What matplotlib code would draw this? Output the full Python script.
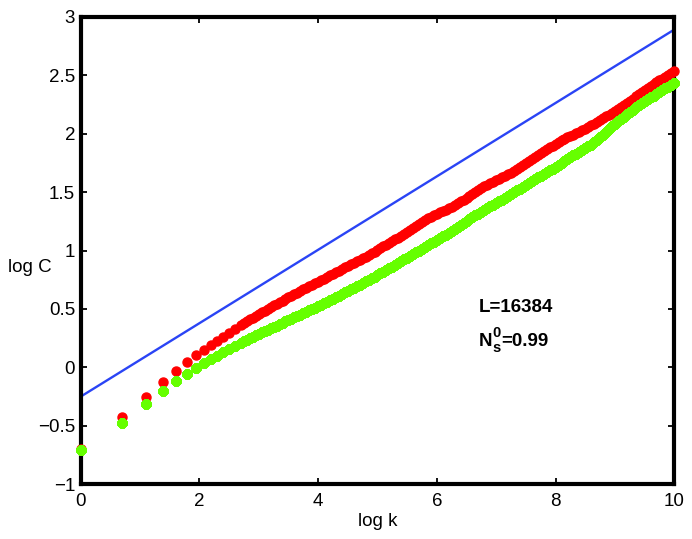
import matplotlib
matplotlib.use("Agg")
import matplotlib.pyplot as plt
from matplotlib.transforms import offset_copy

plt.rcParams['font.family'] = ['Liberation Sans', 'DejaVu Sans']

# discrete early points (x = log k, k = 1..10)
x_early = [0.0, 0.693, 1.099, 1.386, 1.609, 1.792, 1.946, 2.079, 2.197, 2.303]
red_early = [-0.70, -0.427, -0.251, -0.122, -0.028, 0.043, 0.103, 0.149, 0.189, 0.226]
green_early = [-0.707, -0.473, -0.313, -0.199, -0.119, -0.056, -0.008, 0.035, 0.069, 0.10]

# dense band, values read along log k
x_dense = [2.4, 2.5, 2.6, 2.7,
           2.75, 2.8, 2.85, 2.9, 2.95,
           3.0, 3.05, 3.1, 3.15, 3.2, 3.25, 3.3, 3.35, 3.4, 3.45, 3.5, 3.55, 3.6, 3.65, 3.7, 3.75, 3.8, 3.85, 3.9, 3.95,
           4.0, 4.05, 4.1, 4.15, 4.2, 4.25, 4.3, 4.35, 4.4, 4.45, 4.5, 4.55, 4.6, 4.65, 4.7, 4.75, 4.8, 4.85, 4.9, 4.95,
           5.0, 5.05, 5.1, 5.15, 5.2, 5.25, 5.3, 5.35, 5.4, 5.45, 5.5, 5.55, 5.6, 5.65, 5.7, 5.75, 5.8, 5.85, 5.9, 5.95,
           6.0, 6.05, 6.1, 6.15, 6.2, 6.25, 6.3, 6.35, 6.4, 6.45, 6.5, 6.55, 6.6, 6.65, 6.7, 6.75, 6.8, 6.85, 6.9, 6.95,
           7.0, 7.05, 7.1, 7.15, 7.2, 7.25, 7.3, 7.35, 7.4, 7.45, 7.5, 7.55, 7.6, 7.65, 7.7, 7.75, 7.8, 7.85, 7.9, 7.95,
           8.0, 8.05, 8.1, 8.15, 8.2, 8.25, 8.3, 8.35, 8.4, 8.45, 8.5, 8.55, 8.6, 8.65, 8.7, 8.75, 8.8, 8.85, 8.9, 8.95,
           9.0, 9.05, 9.1, 9.15, 9.2, 9.25, 9.3, 9.35, 9.4, 9.45, 9.5, 9.55, 9.6, 9.65, 9.7, 9.75, 9.8, 9.85, 9.9, 9.95,
           10.0]
red_dense = [0.26, 0.295, 0.33, 0.365,
             0.38, 0.395, 0.41, 0.425, 0.44,
             0.455, 0.47, 0.485, 0.50, 0.515, 0.53, 0.545, 0.558, 0.572, 0.586, 0.60, 0.613, 0.627, 0.64, 0.654, 0.667, 0.68, 0.693, 0.707, 0.72,
             0.733, 0.746, 0.76, 0.773, 0.787, 0.80, 0.814, 0.827, 0.841, 0.855, 0.869, 0.882, 0.896, 0.908, 0.92, 0.934, 0.948, 0.962, 0.977, 0.991,
             1.006, 1.021, 1.036, 1.051, 1.066, 1.081, 1.096, 1.111, 1.127, 1.143, 1.16, 1.176, 1.193, 1.209, 1.226, 1.243, 1.26, 1.275, 1.29, 1.303,
             1.315, 1.327, 1.338, 1.349, 1.36, 1.374, 1.388, 1.404, 1.42, 1.436, 1.453, 1.47, 1.487, 1.503, 1.52, 1.534, 1.548, 1.561, 1.574, 1.587,
             1.60, 1.613, 1.626, 1.639, 1.652, 1.667, 1.682, 1.698, 1.714, 1.73, 1.747, 1.763, 1.78, 1.797, 1.814, 1.831, 1.848, 1.865, 1.882, 1.898,
             1.914, 1.93, 1.945, 1.958, 1.97, 1.98, 1.99, 2.002, 2.015, 2.027, 2.04, 2.055, 2.07, 2.085, 2.10, 2.116, 2.132, 2.147, 2.162, 2.176,
             2.19, 2.208, 2.226, 2.245, 2.264, 2.282, 2.30, 2.319, 2.338, 2.357, 2.376, 2.393, 2.41, 2.425, 2.44, 2.455, 2.47, 2.486, 2.502, 2.518,
             2.535]
green_dense = [0.128, 0.157, 0.184, 0.211,
               0.224, 0.237, 0.25, 0.262, 0.275,
               0.287, 0.299, 0.311, 0.323, 0.335, 0.347, 0.358, 0.37, 0.381, 0.393, 0.404, 0.416, 0.427, 0.439, 0.45, 0.462, 0.474, 0.487, 0.499, 0.512,
               0.524, 0.537, 0.55, 0.563, 0.576, 0.589, 0.602, 0.615, 0.628, 0.642, 0.655, 0.669, 0.682, 0.696, 0.709, 0.723, 0.736, 0.75, 0.763, 0.777,
               0.79, 0.804, 0.818, 0.833, 0.848, 0.863, 0.878, 0.894, 0.91, 0.925, 0.94, 0.955, 0.97, 0.985, 1.00, 1.015, 1.03, 1.045, 1.06, 1.075,
               1.09, 1.105, 1.12, 1.135, 1.15, 1.165, 1.18, 1.198, 1.215, 1.233, 1.25, 1.267, 1.283, 1.30, 1.316, 1.332, 1.347, 1.362, 1.377, 1.392,
               1.406, 1.421, 1.436, 1.451, 1.466, 1.482, 1.497, 1.514, 1.53, 1.547, 1.563, 1.58, 1.596, 1.611, 1.626, 1.641, 1.655, 1.67, 1.685, 1.70,
               1.715, 1.731, 1.747, 1.764, 1.78, 1.797, 1.813, 1.829, 1.845, 1.86, 1.875, 1.89, 1.905, 1.925, 1.945, 1.968, 1.99, 2.015, 2.04, 2.063,
               2.085, 2.105, 2.125, 2.145, 2.165, 2.185, 2.205, 2.225, 2.245, 2.263, 2.28, 2.295, 2.31, 2.325, 2.34, 2.355, 2.37, 2.386, 2.402, 2.42,
               2.437]

# reference straight line
line_x = [0.0, 10.0]
line_y = [-0.25, 2.89]

x_ticks = [0, 2, 4, 6, 8, 10]
x_ticklabels = ['0', '2', '4', '6', '8', '10']
y_ticks = [-1, -0.5, 0, 0.5, 1, 1.5, 2, 2.5, 3]
y_ticklabels = ['\u22121', '\u22120.5', '0', '0.5', '1', '1.5', '2', '2.5', '3']

red_x = x_early + x_dense
red_y = red_early + red_dense
green_x = x_early + x_dense
green_y = green_early + green_dense

fig = plt.figure(figsize=(6.92, 5.39), dpi=100)
ax = fig.add_axes([0.1166, 0.1015, 0.8578, 0.8675])

ax.plot(line_x, line_y, color='#2a44f5', lw=1.7, zorder=2)
ax.plot(red_x, red_y, linestyle='none', marker='o', ms=6.5, color='#ff0000',
        mec='#ff0000', clip_on=False, zorder=3)
ax.plot(green_x, green_y, linestyle='none', marker=(8, 2, 0), ms=7.2, mew=2.9,
        color='#66ff00', mec='#66ff00', clip_on=False, zorder=4)

ax.set_xlim(0, 10)
ax.set_ylim(-1, 3)
ax.set_xticks(x_ticks)
ax.set_xticklabels(x_ticklabels)
ax.set_yticks(y_ticks)
ax.set_yticklabels(y_ticklabels)
ax.tick_params(direction='in', length=4, width=1.3, top=True, right=True,
               labelsize=13.5, colors='black')
ax.tick_params(axis='x', pad=6)
ax.tick_params(axis='y', pad=4)
for s in ax.spines.values():
    s.set_linewidth(3)

ax.set_xlabel('log k', fontsize=13.5)
ax.xaxis.set_label_coords(0.5008, -0.0806)
ax.xaxis.label.set_va('center')
ax.set_ylabel('log C', fontsize=13.5, rotation=0)
ax.yaxis.set_label_coords(-0.0854, 0.4626)
ax.yaxis.label.set_va('center')
ax.yaxis.label.set_ha('center')

# annotation
ann_x = 6.70
ax.text(ann_x, 0.471, 'L=16384', fontsize=13.5, fontweight='bold', va='baseline', ha='left')
ny = 0.183
ax.text(ann_x, ny, 'N', fontsize=13.5, fontweight='bold', va='baseline', ha='left')
ax.text(ann_x, ny, '0', fontsize=10.5, fontweight='bold', va='baseline', ha='left',
        transform=offset_copy(ax.transData, fig=fig, x=14, y=9.5, units='dots'))
ax.text(ann_x, ny, 's', fontsize=10.5, fontweight='bold', va='baseline', ha='left',
        transform=offset_copy(ax.transData, fig=fig, x=14, y=-5.5, units='dots'))
ax.text(ann_x, ny, '=0.99', fontsize=13.5, fontweight='bold', va='baseline', ha='left',
        transform=offset_copy(ax.transData, fig=fig, x=23, y=0, units='dots'))

fig.savefig('out.png', dpi=100)
